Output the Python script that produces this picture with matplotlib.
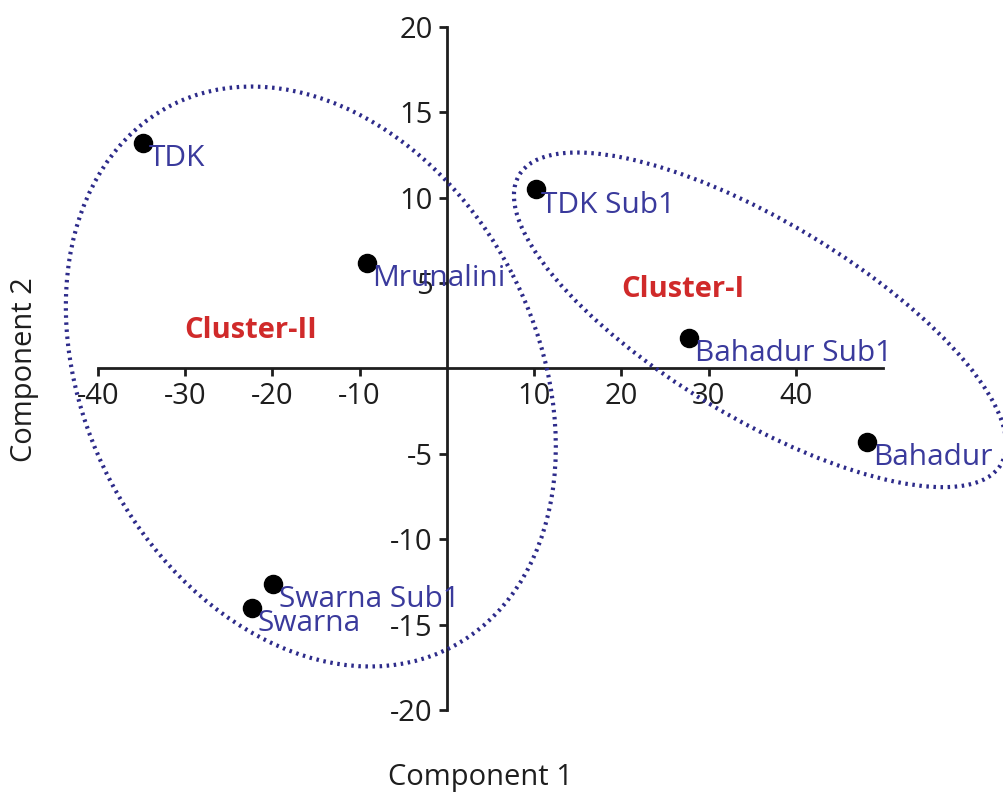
import matplotlib
matplotlib.use("Agg")
import matplotlib.pyplot as plt
from matplotlib import transforms
from matplotlib.patches import Ellipse

plt.rcParams["font.family"] = ["Open Sans", "DejaVu Sans"]
plt.rcParams["axes.unicode_minus"] = False

# Cultivars on the first two components
cultivars = ["TDK", "Mrunalini", "TDK Sub1", "Bahadur Sub1", "Bahadur", "Swarna Sub1", "Swarna"]
comp1 = [-34.8, -9.2, 10.2, 27.8, 48.2, -19.9, -22.3]
comp2 = [13.2, 6.2, 10.5, 1.8, -4.3, -12.6, -14.0]

x_ticks = [-40, -30, -20, -10, 10, 20, 30, 40]
y_ticks = [-20, -15, -10, -5, 5, 10, 15, 20]

# Cluster outlines: name, centre (data), width/height in inches, angle
clusters = ["Cluster-I", "Cluster-II"]
cluster_label_pos = [(27.0, 4.6), (-22.5, 2.2)]
cluster_centres = [(35.9, 2.85), (-15.6, -0.47)]
cluster_sizes = [(5.62, 1.96), (6.10, 4.52)]
cluster_angles = [-31.0, 117.5]

BLUE = "#3a3a9c"
RED = "#d02a2a"
DOT = "#2d2b8a"
INK = "#1e1e1e"

fig = plt.figure(figsize=(10.04, 8.01), dpi=100)
ax = fig.add_axes([98 / 1004, 1 - 710 / 801, (883 - 98) / 1004, (710 - 27) / 801])

ax.set_xlim(-40, 50)
ax.set_ylim(-20, 20)

# Ejes cruzados en el origen
ax.spines["left"].set_position(("data", 0))
ax.spines["bottom"].set_position(("data", 0))
ax.spines["top"].set_visible(False)
ax.spines["right"].set_visible(False)
for s in ("left", "bottom"):
    ax.spines[s].set_linewidth(2)
    ax.spines[s].set_color(INK)

ax.set_xticks(x_ticks)
ax.set_yticks(y_ticks)
ax.tick_params(axis="both", direction="out", length=6, width=2, labelsize=21,
               color=INK, labelcolor=INK, pad=4)

ax.scatter(comp1, comp2, s=170, color="black", zorder=5, clip_on=False)

for name, x, y in zip(cultivars, comp1, comp2):
    ax.annotate(name, (x, y), xytext=(4, -1), textcoords="offset points",
                ha="left", va="top", fontsize=21.5, color=BLUE, zorder=6)

for name, (lx, ly) in zip(clusters, cluster_label_pos):
    ax.text(lx, ly, name, ha="center", va="center", fontsize=21,
            fontweight="bold", color=RED)

# elipses dibujadas en pulgadas para que no se deformen con la escala
for (cx, cy), (w, h), ang in zip(cluster_centres, cluster_sizes, cluster_angles):
    tr = fig.dpi_scale_trans + transforms.ScaledTranslation(cx, cy, ax.transData)
    e = Ellipse((0, 0), w, h, angle=ang, transform=tr, fill=False,
                edgecolor=DOT, linewidth=3, linestyle=(0, (0.6, 1.1)),
                clip_on=False, zorder=3)
    ax.add_patch(e)

fig.text(480 / 1004, 1 - 778 / 801, "Component 1", ha="center", va="center",
         fontsize=21, color=INK)
fig.text(25 / 1004, 1 - 370 / 801, "Component 2", ha="center", va="center",
         rotation=90, fontsize=21, color=INK)

fig.savefig("out.png", dpi=100)
